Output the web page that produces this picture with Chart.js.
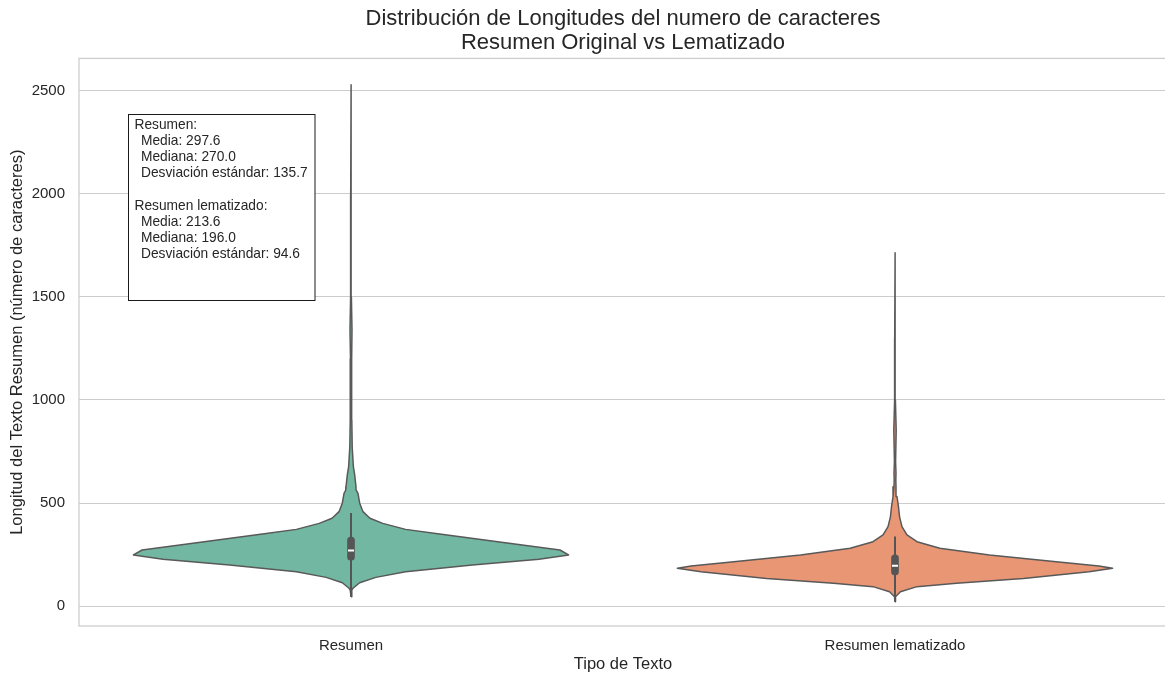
<!DOCTYPE html>
<html>
<head>
<meta charset="utf-8">
<script src="https://cdn.jsdelivr.net/npm/chart.js@4.4.1/dist/chart.umd.min.js"></script>
<style>
  html, body { margin: 0; padding: 0; background: #ffffff; overflow: hidden; }
  canvas { display: block; }
</style>
</head>
<body>
<canvas id="chart" width="1173" height="674"></canvas>
<script>
const categories = ['Resumen', 'Resumen lematizado'];

// Kernel density outline of each group: length (characters) and relative density (peak = 100)
const resumenLengths = [45, 78, 86, 113, 139, 166, 199, 227, 248, 272, 307, 350, 372, 401, 426, 458, 499, 547, 563, 578, 636, 675, 772, 903, 1000, 1100, 1200, 1340, 1500, 2000, 2530];
const resumenDensity = [0, 0.37, 0.91, 3.98, 11.4, 25.1, 55.8, 86.4, 100, 96.0, 70.9, 40.7, 25.1, 14.6, 8.7, 5.5, 4.0, 3.2, 2.4, 2.3, 1.7, 1.1, 0.55, 0.37, 0.27, 0.41, 0.23, 0.46, 0.18, 0.14, 0];
const lematizadoLengths = [21, 45, 69, 94, 110, 134, 166, 183, 194, 215, 248, 280, 312, 345, 385, 433, 482, 531, 579, 612, 644, 700, 854, 1000, 1300, 1715];
const lematizadoDensity = [0, 0.23, 2.5, 10.1, 28.3, 59.0, 89.2, 100, 93.7, 74.1, 43.4, 20.6, 10.1, 5.5, 3.2, 2.1, 1.6, 0.91, 0.46, 0.37, 0.46, 0.27, 0.55, 0.18, 0.14, 0];

// Inner box summary per group
const quartile1 = [222, 151];
const quartile3 = [335, 248];
const whiskerLow = [45, 21];
const whiskerHigh = [452, 337];

// Summary statistics shown in the annotation box
const means = [297.6, 213.6];
const medians = [270.0, 196.0];
const stdDevs = [135.7, 94.6];

const yTicks = [0, 500, 1000, 1500, 2000, 2500];

const FONT = '"Liberation Sans", Arial, Helvetica, sans-serif';
const TEXT = '#262626';
const EDGE = '#595959';
const fills = ['#72b7a1', '#e99675'];
const VIOLIN_HALF_WIDTH = 0.4;

Chart.defaults.font.family = FONT;
Chart.defaults.color = TEXT;

function violinOutline(pos, lengths, density) {
  const w = d => d / 100 * VIOLIN_HALF_WIDTH;
  const right = lengths.map((v, i) => ({ x: pos + w(density[i]), y: v }));
  const left = lengths.map((v, i) => ({ x: pos - w(density[i]), y: v })).reverse();
  return right.concat(left);
}

const violinData = [
  violinOutline(0, resumenLengths, resumenDensity),
  violinOutline(1, lematizadoLengths, lematizadoDensity)
];

const datasets = [];
violinData.forEach((pts, i) => {
  datasets.push({
    type: 'line',
    label: categories[i],
    data: pts,
    backgroundColor: fills[i],
    borderColor: EDGE,
    borderWidth: 1.5,
    borderJoinStyle: 'round',
    fill: 'shape',
    tension: 0,
    pointRadius: 0,
    order: 3
  });
  datasets.push({
    type: 'line',
    data: [{ x: i, y: whiskerLow[i] }, { x: i, y: whiskerHigh[i] }],
    borderColor: '#555555',
    borderWidth: 2,
    fill: false,
    pointRadius: 0,
    order: 2
  });
});
datasets.push({
  type: 'bar',
  data: categories.map((c, i) => ({ x: i, y: [quartile1[i], quartile3[i]] })),
  backgroundColor: '#555555',
  barThickness: 7,
  borderRadius: 3.5,
  borderSkipped: false,
  order: 1
});
datasets.push({
  type: 'line',
  data: medians.map((m, i) => ({ x: i, y: m })),
  showLine: false,
  pointStyle: 'line',
  pointRadius: 3,
  pointBorderColor: '#ffffff',
  pointBorderWidth: 2,
  order: 0
});

// Light frame around the plotting area
const framePlugin = {
  id: 'frame',
  afterDatasetsDraw(chart) {
    const { ctx, chartArea: a } = chart;
    ctx.save();
    ctx.strokeStyle = '#cccccc';
    ctx.lineWidth = 1.25;
    ctx.strokeRect(a.left, a.top, a.right - a.left, a.bottom - a.top);
    ctx.restore();
  }
};

// Annotation box with the summary statistics
const statsPlugin = {
  id: 'statsBox',
  afterDraw(chart) {
    const ctx = chart.ctx;
    const bx = 128.5, by = 114.5, bw = 186.5, bh = 186;
    ctx.save();
    ctx.fillStyle = '#ffffff';
    ctx.fillRect(bx, by, bw, bh);
    ctx.strokeStyle = '#1a1a1a';
    ctx.lineWidth = 1;
    ctx.strokeRect(bx, by, bw, bh);
    const lines = [];
    categories.forEach((c, i) => {
      if (i > 0) lines.push(null);
      lines.push([0, c + ':']);
      lines.push([1, 'Media: ' + means[i].toFixed(1)]);
      lines.push([1, 'Mediana: ' + medians[i].toFixed(1)]);
      lines.push([1, 'Desviación estándar: ' + stdDevs[i].toFixed(1)]);
    });
    ctx.font = '13.75px ' + FONT;
    ctx.fillStyle = TEXT;
    ctx.textAlign = 'left';
    ctx.textBaseline = 'middle';
    lines.forEach((ln, k) => {
      if (!ln) return;
      const x = ln[0] ? 141 : 134.5;
      ctx.fillText(ln[1], x, 125 + k * 16.2);
    });
    ctx.restore();
  }
};

new Chart(document.getElementById('chart'), {
  type: 'line',
  data: { datasets },
  options: {
    responsive: false,
    animation: false,
    events: [],
    layout: { padding: 0 },
    plugins: {
      legend: { display: false },
      tooltip: { enabled: false },
      title: {
        display: true,
        fullSize: false,
        text: ['Distribución de Longitudes del numero de caracteres', 'Resumen Original vs Lematizado'],
        color: TEXT,
        font: { size: 22, weight: 'normal', lineHeight: 1.1 },
        padding: { top: 7, bottom: 3 }
      }
    },
    scales: {
      x: {
        type: 'linear',
        min: -0.5,
        max: 1.5,
        offset: false,
        afterBuildTicks: s => { s.ticks = categories.map((c, i) => ({ value: i })); },
        afterFit: s => { s.height = 48; },
        grid: { display: false, drawTicks: false },
        border: { display: false },
        ticks: {
          callback: v => categories[v],
          color: TEXT,
          font: { size: 15 },
          padding: 11,
          maxRotation: 0,
          autoSkip: false
        },
        title: {
          display: true,
          text: 'Tipo de Texto',
          color: TEXT,
          font: { size: 16.5 },
          padding: { top: 0, bottom: 0 }
        }
      },
      y: {
        type: 'linear',
        min: -97,
        max: 2658,
        afterBuildTicks: s => { s.ticks = yTicks.map(v => ({ value: v })); },
        afterFit: s => { s.width = 79; },
        grid: { color: '#cccccc', lineWidth: 1, drawTicks: false },
        border: { display: false },
        ticks: {
          callback: v => String(v),
          color: TEXT,
          font: { size: 15 },
          padding: 14
        },
        title: {
          display: true,
          text: 'Longitud del Texto Resumen (número de caracteres)',
          color: TEXT,
          font: { size: 16.5 },
          padding: { top: 8, bottom: 0 }
        }
      }
    }
  },
  plugins: [framePlugin, statsPlugin]
});
</script>
</body>
</html>
